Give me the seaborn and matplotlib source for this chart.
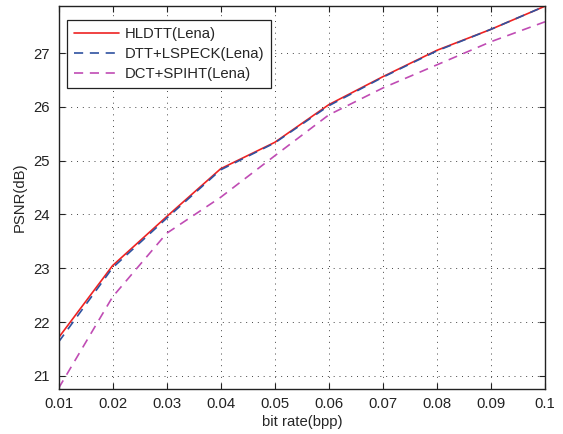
import matplotlib
matplotlib.use("Agg")
import matplotlib.pyplot as plt
import pandas as pd
import seaborn as sns

# bit rate (bpp) and PSNR (dB)
BIT_RATE = [0.01, 0.02, 0.03, 0.04, 0.05, 0.06, 0.07, 0.08, 0.09, 0.10]
HLDTT = [21.71, 23.05, 23.96, 24.85, 25.34, 26.04, 26.56, 27.05, 27.44, 27.87]
DTT_LSPECK = [21.63, 23.01, 23.93, 24.83, 25.33, 26.02, 26.55, 27.04, 27.44, 27.87]
DCT_SPIHT = [20.77, 22.47, 23.65, 24.32, 25.09, 25.85, 26.35, 26.78, 27.21, 27.58]

SERIES = [
    ("HLDTT(Lena)", HLDTT, "#ee2222", "-"),
    ("DTT+LSPECK(Lena)", DTT_LSPECK, "#2f52a0", (0, (5.5, 4))),
    ("DCT+SPIHT(Lena)", DCT_SPIHT, "#c04cb4", (0, (5.5, 4))),
]

X_TICKS = [0.01, 0.02, 0.03, 0.04, 0.05, 0.06, 0.07, 0.08, 0.09, 0.1]
X_TICK_LABELS = ["0.01", "0.02", "0.03", "0.04", "0.05", "0.06", "0.07", "0.08", "0.09", "0.1"]
Y_TICKS = [21, 22, 23, 24, 25, 26, 27]

FONT_SIZE = 10.7


def main() -> None:
    sns.set_style("ticks")
    plt.rcParams["font.family"] = ["Liberation Sans", "DejaVu Sans"]
    plt.rcParams["font.size"] = FONT_SIZE

    fig = plt.figure(figsize=(5.63, 4.34), dpi=100)
    ax = fig.add_axes([0.104, 0.104, 0.864, 0.883])

    for name, values, color, style in SERIES:
        df = pd.DataFrame({"x": BIT_RATE, "y": values})
        line = sns.lineplot(data=df, x="x", y="y", ax=ax, color=color,
                            label=name, linewidth=1.2)
        line.lines[-1].set_linestyle(style)

    ax.set_xlim(0.01, 0.1)
    ax.set_ylim(20.76, 27.88)
    ax.set_xticks(X_TICKS)
    ax.set_xticklabels(X_TICK_LABELS)
    ax.set_yticks(Y_TICKS)
    ax.set_xlabel("bit rate(bpp)", labelpad=3, fontsize=FONT_SIZE)
    ax.set_ylabel("PSNR(dB)", labelpad=5, fontsize=FONT_SIZE)

    ax.grid(True, linestyle=(0, (1, 5)), color="#444444", linewidth=0.7)
    ax.tick_params(direction="in", top=True, right=True, length=4,
                   width=0.8, labelsize=FONT_SIZE, colors="#222222", pad=6)
    for spine in ax.spines.values():
        spine.set_visible(True)
        spine.set_linewidth(1.0)
        spine.set_color("#222222")

    leg = ax.legend(loc="upper left", bbox_to_anchor=(0.018, 0.962),
                    fancybox=False, framealpha=1, edgecolor="#222222",
                    handlelength=3.0, handletextpad=0.4, borderpad=0.45,
                    labelspacing=0.42, fontsize=FONT_SIZE, borderaxespad=0.0)
    leg.get_frame().set_linewidth(0.9)

    fig.savefig("out.png", dpi=100)
    plt.close(fig)


if __name__ == "__main__":
    main()
